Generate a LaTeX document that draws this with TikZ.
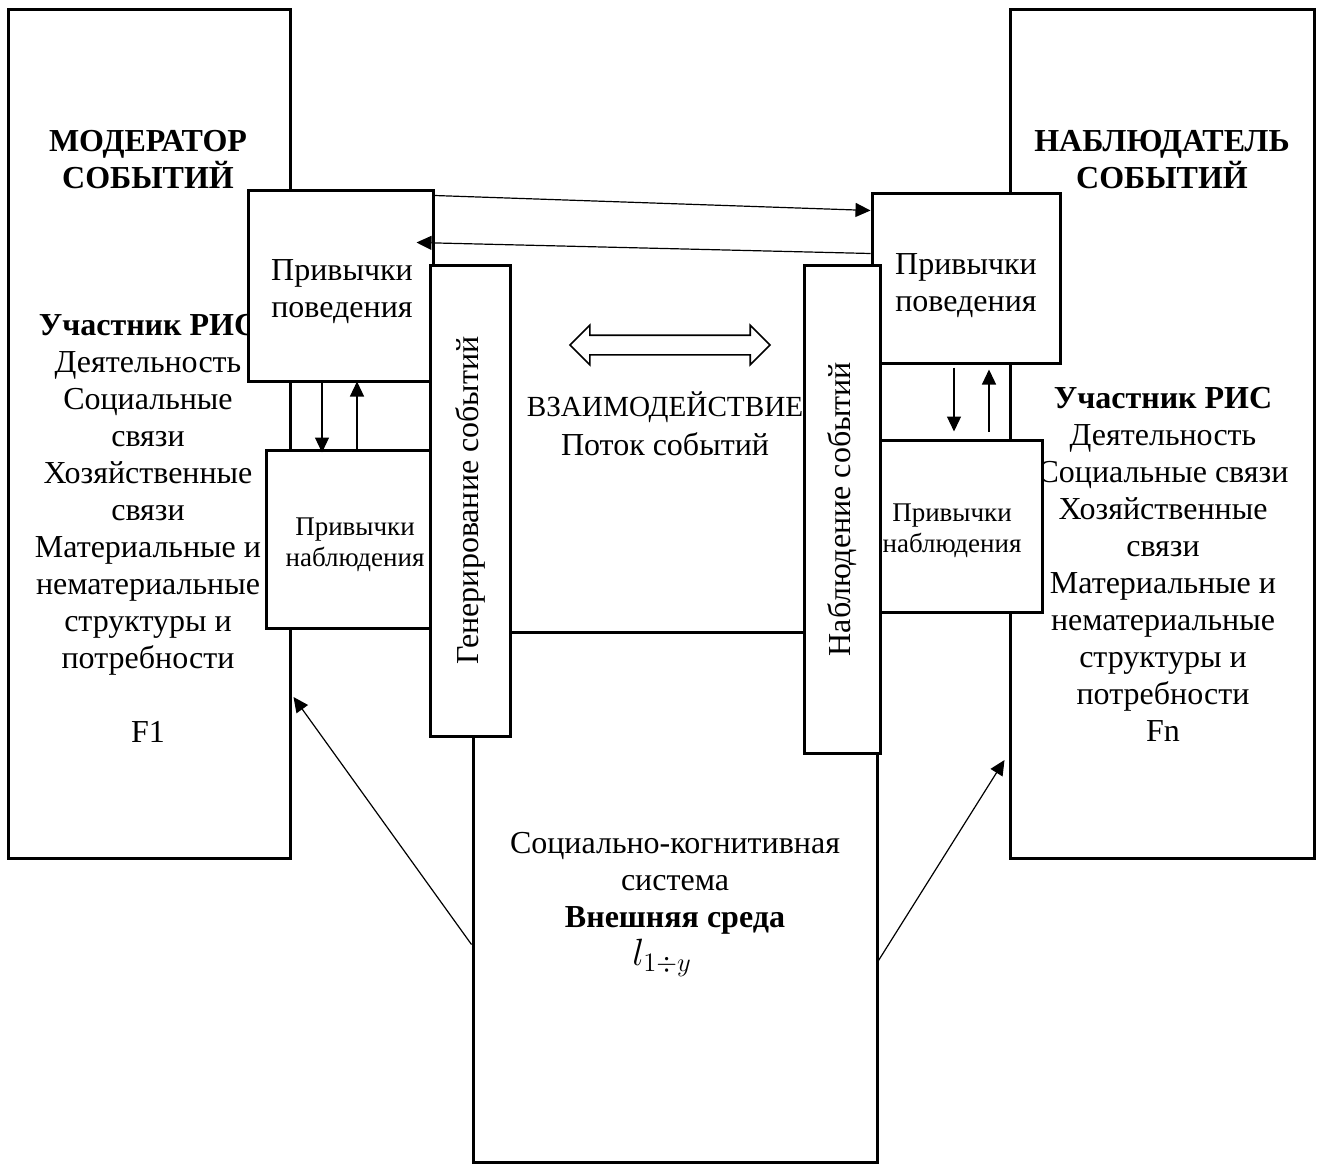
\documentclass[tikz,border=0pt]{standalone}
\usepackage{fix-cm}
\usepackage{fontspec}
\setmainfont{Liberation Serif}
\usepackage{tikz}
\usetikzlibrary{arrows.meta,positioning,shapes.arrows}
\tikzset{
  every node/.append style={font=\fontsize{16}{18.5}\selectfont},
}
\tikzset{
  box/.style={draw, fill=white, line width=1.5pt, inner sep=0pt, align=center},
  arrow/.style={-{Triangle[length=7.5pt,width=7pt]}, line width=0.6pt},
  txt/.style={align=center, inner sep=0pt},
  head/.style={align=center, inner sep=0pt, font=\fontsize{16}{18.5}\selectfont\bfseries},
  small/.style={align=center, inner sep=0pt, font=\fontsize{13.5}{15.5}\selectfont}
}

\begin{document}
\begin{tikzpicture}[x=0.5pt, y=-0.5pt]
\useasboundingbox (0,0) rectangle (1320,1166);
% outer blocks
\node[box, minimum width=141pt, minimum height=424pt] (modL) at (149,434) {};
\node[box, minimum width=152pt, minimum height=424pt] (nabR) at (1162,434) {};
\node[box, minimum width=202pt, minimum height=265pt] (env) at (675,897) {};

\node[head] (modLt) at (148,159.5) {МОДЕРАТОР\\СОБЫТИЙ};
\node[txt] (modLb) at (148,528) {\textbf{Участник РИС}\\Деятельность\\Социальные\\связи\\Хозяйственные\\связи\\Материальные и\\нематериальные\\структуры и\\потребности\\[18.5pt]F1};
\node[head] (nabRt) at (1162,159.5) {НАБЛЮДАТЕЛЬ\\СОБЫТИЙ};
\node[txt] (nabRb) at (1163,564.5) {\textbf{Участник РИС}\\Деятельность\\Социальные связи\\Хозяйственные\\связи\\Материальные и\\нематериальные\\структуры и\\потребности\\Fn};
\node[txt] (envt) at (675,883) {Социально-когнитивная\\система\\\textbf{Внешняя среда}};
\node[txt, font=\fontsize{19}{22}\selectfont] (envm) at (662,958) {$l_{1\div y}$};

% interaction in the middle
\node[double arrow, draw, line width=0.8pt, minimum height=100pt, minimum width=19pt,
  double arrow head extend=5pt, inner xsep=0pt, inner ysep=4.5pt] (flow) at (670,345) {};
\node[txt] (flowt) at (665,424) {{\fontsize{14.6}{18.5}\selectfont ВЗАИМОДЕЙСТВИЕ}\\[1pt]Поток событий};

% habit blocks
\node[box, minimum width=92.5pt, minimum height=95pt] (bhL) at (340.5,286) {};
\node[box, minimum width=94pt, minimum height=84.5pt] (bhR) at (966,278.5) {};
\node[txt] (bhLt) at (342,292) {Привычки\\поведения};
\node[txt] (bhRt) at (966,285.5) {Привычки\\поведения};
\node[box, rotate=90, minimum width=235.5pt, minimum height=40pt] (gen) at (470,500.5) {Генерирование событий};
\node[box, rotate=90, minimum width=244pt, minimum height=38pt] (obs) at (842,509) {Наблюдение событий};
\node[box, minimum width=82pt, minimum height=89pt] (obL) at (348,539) {};
\node[box, minimum width=81pt, minimum height=86pt] (obR) at (961,526) {};
\node[small] (obLt) at (355,544.5) {Привычки\\наблюдения};
\node[small] (obRt) at (952,531) {Привычки\\наблюдения};

% connectors
\draw[arrow] ([yshift=-3pt]bhL.north east) -- ([yshift=-9pt]bhR.north west);
\draw[arrow] ([yshift=-30.5pt]bhR.north west) -- ([xshift=-9pt,yshift=-26.5pt]bhL.north east);
\draw[arrow] ([xshift=-9.25pt]bhL.south) -- ([xshift=-13pt,yshift=-2pt]obL.north);
\draw[arrow] ([xshift=4.5pt]obL.north) -- ([xshift=8.25pt,yshift=0.5pt]bhL.south);
\draw[arrow] ([xshift=-6pt,yshift=-1.5pt]bhR.south) -- ([xshift=-3.5pt,yshift=3.5pt]obR.north);
\draw[arrow] ([xshift=14pt,yshift=3.5pt]obR.north) -- ([xshift=11.5pt,yshift=-2.5pt]bhR.south);
\draw[arrow] ([yshift=-157pt]env.north west) -- ([xshift=1pt,yshift=-131.5pt]modL.east);
\draw[arrow] ([yshift=-165pt]env.north east) -- ([xshift=-2pt,yshift=-163pt]nabR.west);
\end{tikzpicture}
\end{document}
